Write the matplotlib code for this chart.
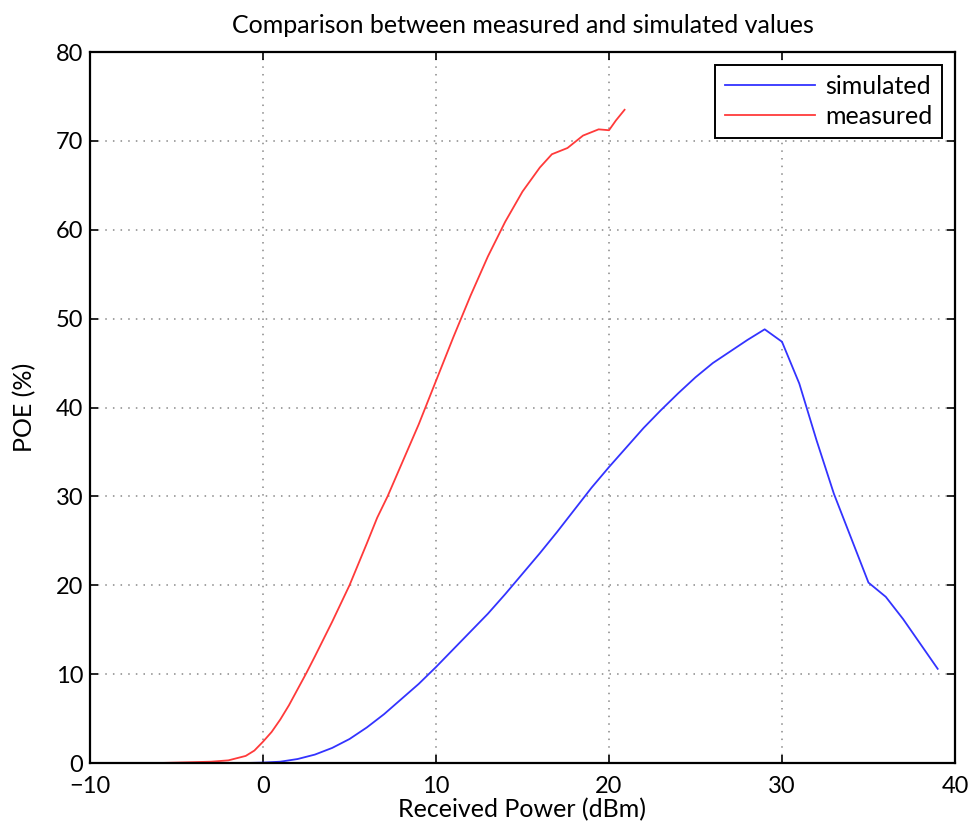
import matplotlib
matplotlib.use("Agg")
import matplotlib.pyplot as plt

# -----------------------------
# data
# -----------------------------
sim_x = [-7, -6, -5, -4, -3, -2, -1, 0, 1, 2, 3, 4, 5, 6, 7, 8, 9, 10,
         11, 12, 13, 14, 15, 16, 17, 18, 19, 20, 21, 22, 23, 24, 25, 26,
         27, 28, 29, 30, 31, 32, 33, 34, 35, 36, 37, 38, 39]
sim_y = [0, 0, 0, 0, 0, 0, 0, 0.05, 0.15, 0.45, 0.95, 1.7, 2.7, 4.0, 5.5,
         7.2, 8.9, 10.8, 12.8, 14.8, 16.8, 19.0, 21.3, 23.6, 26.0, 28.5,
         31.0, 33.3, 35.5, 37.7, 39.7, 41.6, 43.4, 45.0, 46.3, 47.6, 48.8,
         47.4, 42.7, 36.3, 30.3, 25.3, 20.3, 18.7, 16.2, 13.4, 10.6]

meas_x = [-7.3, -6, -5, -4, -3, -2, -1, -0.5, 0, 0.5, 1, 1.5, 2, 2.5, 3,
          4, 5, 6, 6.6, 7.2, 8, 9, 10, 11, 12, 13, 14, 15, 16, 16.7, 17.6,
          18.5, 19.4, 20.0, 20.4, 20.9]
meas_y = [0, 0, 0.05, 0.1, 0.15, 0.3, 0.8, 1.4, 2.4, 3.5, 4.9, 6.5, 8.3,
          10.1, 12.0, 15.9, 20.0, 24.7, 27.6, 30.0, 33.6, 38.1, 43.0, 47.9,
          52.6, 57.0, 60.9, 64.3, 67.0, 68.5, 69.2, 70.6, 71.3, 71.2, 72.3,
          73.5]

plt.rcParams["font.family"] = ["Lato", "DejaVu Sans"]

fig = plt.figure(figsize=(9.71, 8.35), dpi=100)
ax = fig.add_axes([0.0927, 0.0862, 0.8908, 0.8515])

ax.plot(sim_x, sim_y, color="#3333ff", lw=1.3, label="simulated")
ax.plot(meas_x, meas_y, color="#ff3a3a", lw=1.3, label="measured")

ax.set_xlim(-10, 40)
ax.set_ylim(0, 80)
ax.set_xticks(range(-10, 41, 10))
ax.set_xticklabels(["\u221210", "0", "10", "20", "30", "40"])
ax.set_yticks(range(0, 81, 10))
ax.grid(True, linestyle=(0, (1, 4)), color="#888888", lw=1.1)
ax.tick_params(direction="in", top=True, right=True, length=6, width=1.2,
               labelsize=17)
ax.tick_params(axis="x", pad=9)
ax.tick_params(axis="y", pad=5)
for s in ax.spines.values():
    s.set_linewidth(1.6)

ax.set_title("Comparison between measured and simulated values",
             fontsize=18, pad=14)
ax.set_xlabel("Received Power (dBm)", fontsize=18, labelpad=1)
ax.set_ylabel("POE (%)", fontsize=18, labelpad=14)

leg = ax.legend(loc="upper right", fontsize=18, fancybox=False,
                framealpha=1, edgecolor="black", handlelength=3.6,
                handletextpad=0.4, labelspacing=0.3, borderaxespad=0.5)
leg.get_frame().set_linewidth(1.4)

fig.savefig("out.png", dpi=100)
